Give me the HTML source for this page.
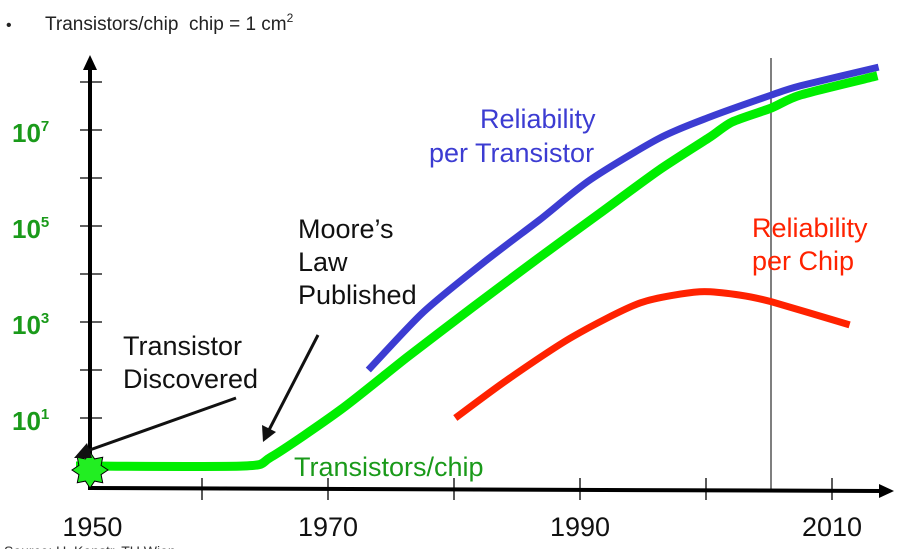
<!DOCTYPE html>
<html><head><meta charset="utf-8"><style>
body{margin:0;background:#fff;}
svg{display:block;font-family:"Liberation Sans",Arial,sans-serif;}
</style></head><body>
<svg id="chart" width="908" height="549" viewBox="0 0 908 549">
<text x="6" y="30" font-size="16" fill="#222">•</text>
<text x="45" y="30" font-size="19" fill="#222">Transistors/chip&#160;&#160;chip = 1 cm<tspan font-size="12" dy="-8">2</tspan></text>
<line x1="771" y1="58" x2="771" y2="490" stroke="#555" stroke-width="1.5"/>
<g id="axes"></g>
<g id="series"></g>
<g>
<text x="480" y="128" font-size="27" fill="#3c3cd2">Reliability</text>
<text x="429" y="162" font-size="27" fill="#3c3cd2">per Transistor</text>
<text x="752" y="237" font-size="27" fill="#ff2200">Reliability</text>
<text x="752" y="270" font-size="27" fill="#ff2200">per Chip</text>
<text x="298" y="238" font-size="27" fill="#111">Moore’s</text>
<text x="298" y="271" font-size="27" fill="#111">Law</text>
<text x="298" y="304" font-size="27" fill="#111">Published</text>
<text x="123" y="355" font-size="27" fill="#111">Transistor</text>
<text x="123" y="388" font-size="27" fill="#111">Discovered</text>
<text x="294" y="476" font-size="27" fill="#1a9a1a">Transistors/chip</text>
<text x="4" y="556" font-size="14" fill="#333">Source: U. Kenstr, TU Wien</text>
<line x1="236" y1="398" x2="84" y2="452" stroke="#111" stroke-width="3"/>
<polygon points="74,458 87,443 92,458" fill="#111"/>
<line x1="318" y1="335" x2="269" y2="430" stroke="#111" stroke-width="3"/>
<polygon points="263,442 262,425 276,432" fill="#111"/>
</g>
</svg>
<script>
const tickYears=[1960,1970,1980,1990,2000,2010];
const yearLabels=["1950","1970","1990","2010"];
const yearLabelYears=[1951.3,1970,1990,2010];
const yTickExps=[0,1,2,3,4,5,6,7,8];
const yLabelExps=[1,3,5,7];
const greenYears=[1950,1963.3,1965.5,1971,1976.3,1981.5,1986.8,1991.6,1996.3,2000.3,2002.1,2005.2,2007.5,2013.6];
const greenLog=[0,0,0.19,1.17,2.27,3.31,4.35,5.27,6.17,6.85,7.17,7.46,7.73,8.13];
const blueYears=[1973.2,1977.5,1982.3,1986.8,1990.8,1996.3,2000.3,2005.2,2007.5,2013.7];
const blueLog=[2.0,3.19,4.23,5.13,5.96,6.83,7.27,7.73,7.92,8.31];
const redYears=[1980.1,1984.2,1989.4,1994.8,1999.5,2002.7,2005.2,2011.4];
const redLog=[1.0,1.79,2.69,3.40,3.63,3.56,3.42,2.94];
const NS="http://www.w3.org/2000/svg";
const X=y=>202+(y-1960)*12.6;
const Y=v=>466-v*48;
function mk(t,a,p){const e=document.createElementNS(NS,t);for(const k in a)e.setAttribute(k,a[k]);p.appendChild(e);return e;}
const ax=document.getElementById('axes');
let e=mk('line',{x1:90,y1:488,x2:882,y2:491,stroke:'#000','stroke-width':4},ax);


e=mk('polygon',{points:'894,491 879,484 879,498',fill:'#000'},ax);


e=mk('line',{x1:90,y1:490,x2:90,y2:68,stroke:'#000','stroke-width':4},ax);


e=mk('polygon',{points:'90,55 83,70 97,70',fill:'#000'},ax);


tickYears.forEach(yr=>{const x=X(yr);
e=mk('line',{x1:x,y1:478,x2:x,y2:500,stroke:'#000','stroke-width':1.3},ax);

});
yearLabels.forEach((l,i)=>{
e=mk('text',{x:X(yearLabelYears[i]),y:536,'font-size':27,'text-anchor':'middle',fill:'#111'},ax);e.textContent=l;

});
yTickExps.forEach(v=>{if(v===0)return;const y=Y(v);
e=mk('line',{x1:80,y1:y,x2:102,y2:y,stroke:'#000','stroke-width':1.3},ax);

});
yLabelExps.forEach(v=>{
e=mk('text',{x:12,y:Y(v)+12,'font-size':26,'font-weight':'bold',fill:'#1a9a1a'},ax);
e.innerHTML='10<tspan font-size="15" dy="-11">'+v+'</tspan>';

});
const sg=document.getElementById('series');
function smooth(P){let d='M'+P[0][0].toFixed(1)+','+P[0][1].toFixed(1);
for(let i=0;i<P.length-1;i++){const p0=P[Math.max(i-1,0)],p1=P[i],p2=P[i+1],p3=P[Math.min(i+2,P.length-1)];
const c1=[p1[0]+(p2[0]-p0[0])/8,p1[1]+(p2[1]-p0[1])/8],c2=[p2[0]-(p3[0]-p1[0])/8,p2[1]-(p3[1]-p1[1])/8];
d+=' C'+c1.map(n=>n.toFixed(1))+' '+c2.map(n=>n.toFixed(1))+' '+p2.map(n=>n.toFixed(1));}
return d;}
function line(yrs,vals,col,w,name){const P=yrs.map((yr,i)=>[X(yr),Y(vals[i])]);
const p=mk('path',{d:smooth(P),fill:'none',stroke:col,'stroke-width':w,'stroke-linejoin':'round'},sg);

}
line(redYears,redLog,'#ff2200',7,'reliability-per-chip-line');
line(blueYears,blueLog,'#3c3cd2',7,'reliability-per-transistor-line');
line(greenYears,greenLog,'#00ee00',9,'transistors-per-chip-line');
let pts=[];for(let i=0;i<16;i++){const r=i%2?12:18,a=i*Math.PI/8;pts.push((90+r*Math.cos(a)).toFixed(1)+','+(Y(0)+4+r*Math.sin(a)).toFixed(1));}
e=mk('polygon',{points:pts.join(' '),fill:'#22ee22',stroke:'#000','stroke-width':1},sg);


</script>
</body></html>
